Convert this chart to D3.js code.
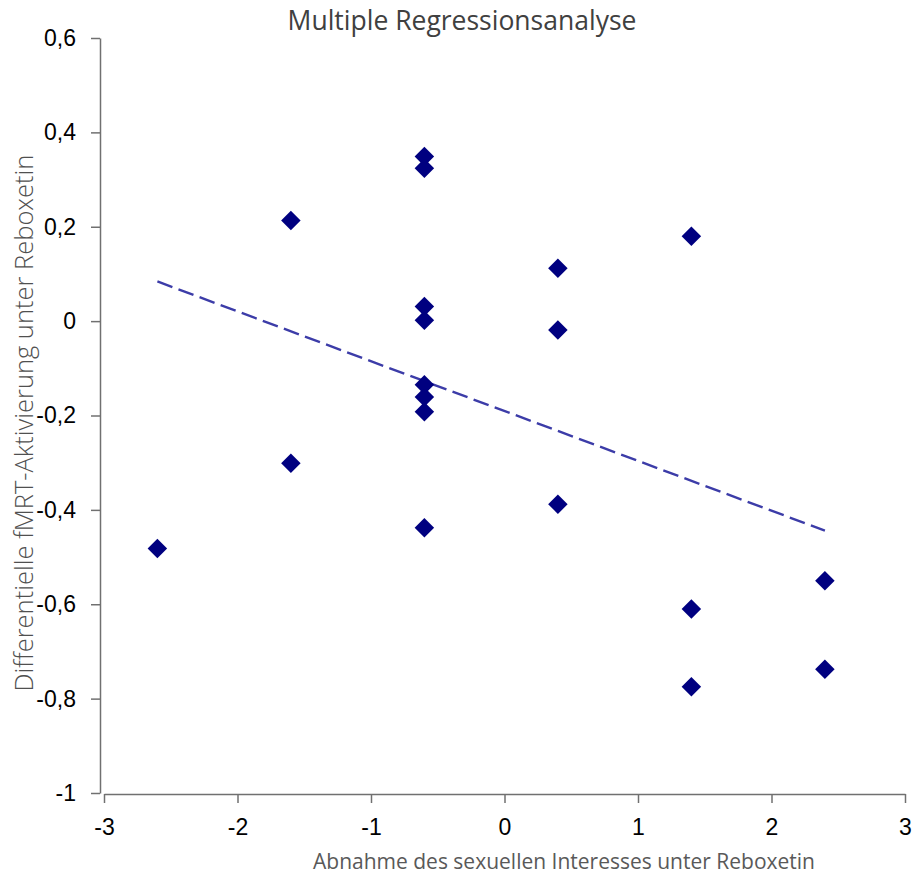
<!DOCTYPE html>
<html>
<head>
<meta charset="utf-8">
<script src="https://cdn.jsdelivr.net/npm/d3@7"></script>
<style>
  body { margin: 0; background: #fff; }
</style>
</head>
<body>
<div id="chart"></div>
<script>
// data
const xValues = [-2.6, -1.6, -1.6, -0.6, -0.6, -0.6, -0.6, -0.6, -0.6, -0.6, -0.6,
  0.4, 0.4, 0.4, 1.4, 1.4, 1.4, 2.4, 2.4];
const yValues = [-0.482, 0.213, -0.301, 0.349, 0.324, 0.031, 0.002, -0.135, -0.161, -0.192, -0.438,
  0.112, -0.019, -0.388, 0.180, -0.610, -0.775, -0.550, -0.738];
const xTicks = [-3, -2, -1, 0, 1, 2, 3];
const yTicks = [0.6, 0.4, 0.2, 0, -0.2, -0.4, -0.6, -0.8, -1];

const titleText = "Multiple Regressionsanalyse";
const xTitle = "Abnahme des sexuellen Interesses unter Reboxetin";
const yTitle = "Differentielle fMRT-Aktivierung unter Reboxetin";

const width = 914
const height = 876

const svg = d3.select("#chart")
  .append("svg")
  .attr("width", width)
  .attr("height", height);

const x = d3.scaleLinear().domain([-3, 3]).range([104, 905]);
const y = d3.scaleLinear().domain([-1, 0.6]).range([793, 38]);

// comma as decimal sign, plain hyphen
const locale = d3.formatLocale({ decimal: ",", thousands: ".", grouping: [3], currency: ["", "€"], minus: "-" });
const fmt = locale.format(".1~f");

//y axis
const yAxis = svg.append("g")
  .attr("transform", "translate(100,0)")
  .call(d3.axisLeft(y).tickValues(yTicks).tickSize(9).tickPadding(15).tickFormat(fmt).tickSizeOuter(0));

//x axis
const xAxis = svg.append("g")
  .attr("transform", "translate(0,794)")
  .call(d3.axisBottom(x).tickValues(xTicks).tickSize(9).tickPadding(16).tickFormat(fmt).tickSizeOuter(0));

[yAxis, xAxis].forEach(a => {
  a.select(".domain").attr("stroke", "#707070").attr("stroke-width", 1.5);
  a.selectAll(".tick line").attr("stroke", "#707070").attr("stroke-width", 1.5);
  a.selectAll(".tick text")
    .style("font-family", "'Liberation Sans', Arial, sans-serif")
    .style("font-size", "23px")
    .attr("fill", "#000");
});

//regression line (least squares)
const mx = d3.mean(xValues);
const my = d3.mean(yValues);
const sxy = d3.sum(xValues, (d, i) => (d - mx) * (yValues[i] - my));
const sxx = d3.sum(xValues, d => (d - mx) * (d - mx));
const slope = sxy / sxx;
const intercept = my - slope * mx;
const xExt = d3.extent(xValues);

svg.append("line")
  .attr("x1", x(xExt[0]))
  .attr("y1", y(intercept + slope * xExt[0]))
  .attr("x2", x(xExt[1]))
  .attr("y2", y(intercept + slope * xExt[1]))
  .attr("stroke", "#3c3ca8")
  .attr("stroke-width", 2.4)
  .attr("stroke-dasharray", "16,6.5");

//points
const diamond = d3.symbol().type(d3.symbolSquare).size(190);
svg.append("g")
  .selectAll("path")
  .data(xValues)
  .join("path")
  .attr("d", diamond)
  .attr("transform", (d, i) => `translate(${x(d)},${y(yValues[i])}) rotate(45)`)
  .attr("fill", "#000080");

//titles
svg.append("text")
  .attr("x", 462)
  .attr("y", 30)
  .attr("text-anchor", "middle")
  .style("font-family", "'Open Sans', sans-serif")
  .style("font-size", "26.5px")
  .attr("fill", "#404040")
  .text(titleText);

svg.append("text")
  .attr("x", 564)
  .attr("y", 869)
  .attr("text-anchor", "middle")
  .style("font-family", "'Open Sans', sans-serif")
  .style("font-size", "21px")
  .attr("fill", "#595959")
  .text(xTitle);

svg.append("text")
  .attr("transform", "translate(33,423) rotate(-90)")
  .attr("text-anchor", "middle")
  .style("font-family", "'Open Sans', sans-serif")
  .style("font-weight", 300)
  .style("font-size", "25.5px")
  .attr("fill", "#505050")
  .text(yTitle);
</script>
</body>
</html>
